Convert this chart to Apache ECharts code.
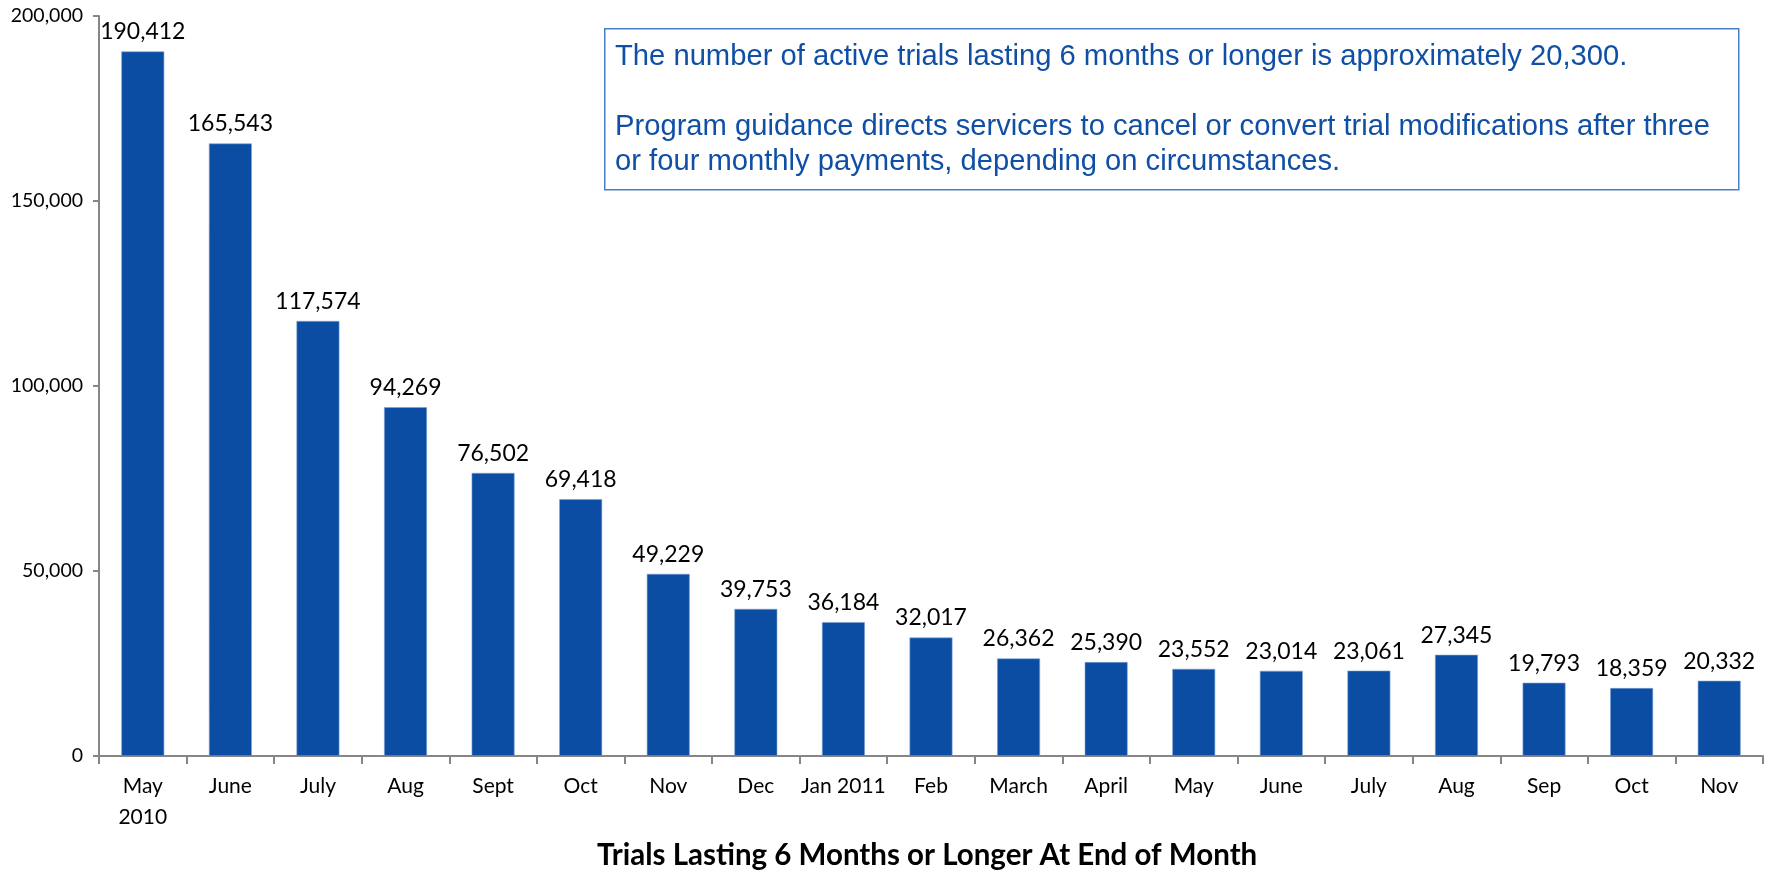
<!DOCTYPE html>
<html>
<head>
<meta charset="utf-8">
<script src="https://cdn.jsdelivr.net/npm/echarts@6/dist/echarts.min.js"></script>
<style>
  html, body { margin: 0; padding: 0; background: #fff; }
  #container { width: 1771px; height: 874px; }
</style>
</head>
<body>
<div id="container"></div>
<script>
const meses = ["May\n2010", "June", "July", "Aug", "Sept", "Oct", "Nov", "Dec", "Jan 2011", "Feb",
  "March", "April", "May", "June", "July", "Aug", "Sep", "Oct", "Nov"];
const pruebas = [190412, 165543, 117574, 94269, 76502, 69418, 49229, 39753, 36184, 32017,
  26362, 25390, 23552, 23014, 23061, 27345, 19793, 18359, 20332];
const titulo = "Trials Lasting 6 Months or Longer At End of Month";
const notas = [
  "The number of active trials lasting 6 months or longer is approximately 20,300.",
  "",
  "Program guidance directs servicers to cancel or convert trial modifications after three",
  "or four monthly payments, depending on circumstances."
];

const fmt = (v) => v.toLocaleString("en-US");

let dom = document.getElementById("container");
let myChart = echarts.init(dom, null, { renderer: "canvas" });

let option = {
  animation: false,
  textStyle: { fontFamily: "Lato" },
  grid: { left: 99, right: 8, top: 16, bottom: 118 },
  xAxis: {
    type: "category",
    data: meses,
    axisLine: { lineStyle: { color: "#868686", width: 2 } },
    axisTick: { show: true, length: 8, lineStyle: { color: "#868686", width: 2 } },
    axisLabel: { color: "#000", fontSize: 21, margin: 15, lineHeight: 31, interval: 0 }
  },
  yAxis: {
    type: "value",
    min: 0,
    max: 200000,
    interval: 50000,
    axisLine: { show: true, lineStyle: { color: "#868686", width: 2 } },
    axisTick: { show: true, length: 6, lineStyle: { color: "#868686", width: 2 } },
    splitLine: { show: false },
    axisLabel: { color: "#000", fontSize: 19.5, margin: 16, formatter: fmt }
  },
  graphic: [
    {
      // titulo centrado sobre el area de la grafica
      type: "text",
      left: 597,
      top: 840,
      style: {
        text: titulo,
        fill: "#000",
        font: "bold 29.5px Lato"
      }
    },
    {
      type: "rect",
      left: 604,
      top: 28,
      shape: { width: 1134, height: 161 },
      style: { fill: "#fff", stroke: "#4a7fc7", lineWidth: 1.5 }
    },
    {
      type: "text",
      left: 615,
      top: 39,
      style: {
        text: notas.join("\n"),
        fill: "#0f4fa5",
        font: "29.2px 'Liberation Sans', Arial, sans-serif",
        lineHeight: 35
      }
    }
  ],
  series: [
    {
      type: "bar",
      data: pruebas,
      barWidth: "49%",
      itemStyle: { color: "#0b4da2", borderColor: "#7fa3d6", borderWidth: 0.6 },
      label: {
        show: true,
        position: "top",
        distance: 8,
        color: "#000",
        fontSize: 23,
        formatter: (p) => fmt(p.value)
      }
    }
  ]
};

myChart.setOption(option);
window.addEventListener("resize", myChart.resize);
</script>
</body>
</html>
